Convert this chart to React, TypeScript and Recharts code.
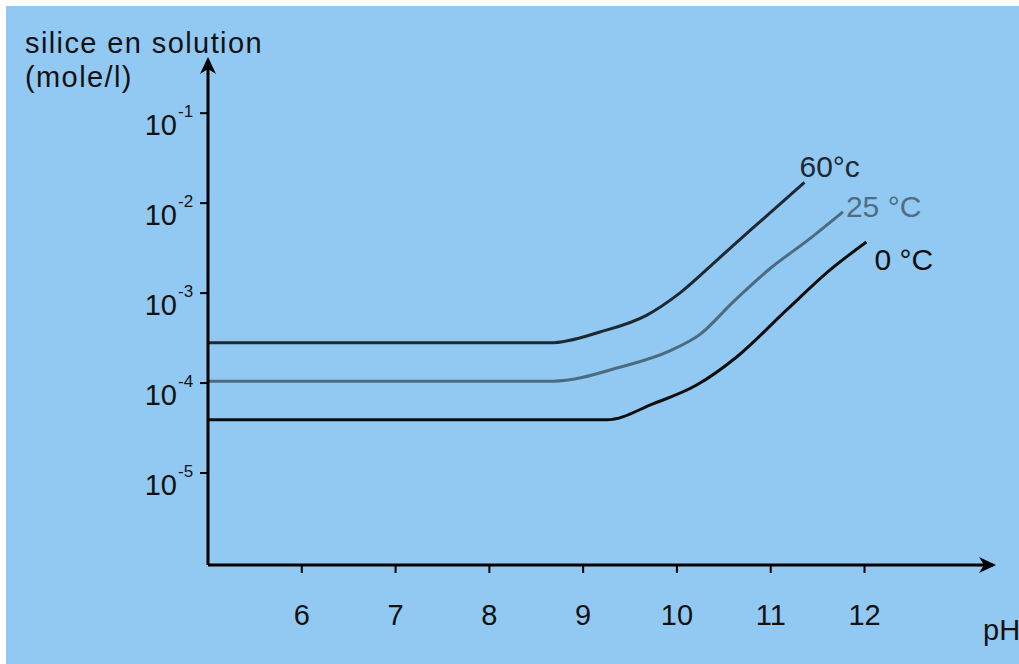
import { LineChart, Line, XAxis, YAxis } from 'recharts';

// pH values and dissolved silica (mole/l)
const ph60 = [5, 8.65, 9.18, 9.68, 10.03, 10.46, 10.81, 11.36];
const conc60 = [2.8e-4, 2.8e-4, 3.7e-4, 5.7e-4, 1.0e-3, 2.5e-3, 5.3e-3, 1.7e-2];
const ph25 = [5, 8.68, 9.39, 9.93, 10.25, 10.6, 11.0, 11.4, 11.77];
const conc25 = [1.05e-4, 1.05e-4, 1.5e-4, 2.3e-4, 3.5e-4, 8.0e-4, 1.9e-3, 3.9e-3, 8.0e-3];
const ph0 = [5, 9.25, 9.75, 10.21, 10.64, 11.17, 11.63, 12.02];
const conc0 = [3.9e-5, 3.9e-5, 5.9e-5, 9.5e-5, 1.96e-4, 6.5e-4, 1.8e-3, 3.7e-3];

const xTicks = [6, 7, 8, 9, 10, 11, 12];
const yTicks = [1e-1, 1e-2, 1e-3, 1e-4, 1e-5];

const FONT = '"Liberation Sans", Arial, sans-serif';
const BG = '#92c9f3';

const toRows = (ph: number[], c: number[]) => ph.map((p, i) => ({ ph: p, c: c[i] }));

const YTick = ({ x, y, payload }: any) => {
  const e = Math.round(Math.log10(payload.value));
  return (
    <g fontFamily={FONT} fill="#111">
      <text x={x - 21} y={y + 22} textAnchor="end" fontSize={29}>10</text>
      <text x={x - 20} y={y + 4} fontSize={17}>{e}</text>
    </g>
  );
};

const XTick = ({ x, y, payload }: any) => (
  <text x={x} y={y + 50} textAnchor="middle" fontSize={29} fontFamily={FONT} fill="#111">
    {payload.value}
  </text>
);

const endLabel = (text: string, color: string, dx: number, dy: number, n: number) => (p: any) =>
  p.index === n - 1 ? (
    <text x={p.x + dx} y={p.y + dy} fontSize={30} fontFamily={FONT} fill={color}>
      {text}
    </text>
  ) : null;

export default function App() {
  return (
    <div style={{ position: 'absolute', left: 0, top: 0, width: 1019, height: 664, background: '#fff' }}>
      <div style={{ position: 'absolute', left: 6, top: 6, right: 0, bottom: 0, background: BG }} />
      <svg width={0} height={0} style={{ position: 'absolute' }}>
        <defs>
          <marker
            id="arrow"
            viewBox="-16 -10 20 20"
            refX={0}
            refY={0}
            markerWidth={20}
            markerHeight={20}
            markerUnits="userSpaceOnUse"
            orient="auto-start-reverse"
          >
            <path d="M 3 0 L -14 -8 L -9 0 L -14 8 Z" fill="#000" />
          </marker>
        </defs>
      </svg>
      <div style={{ position: 'absolute', left: 0, top: 0 }}>
        <LineChart width={1019} height={664} margin={{ top: 60, right: 26, bottom: 39, left: 0 }}>
          <XAxis
            dataKey="ph"
            type="number"
            domain={[5, 13.37]}
            ticks={xTicks}
            allowDataOverflow
            height={60}
            stroke="#000"
            axisLine={{ stroke: '#000', strokeWidth: 3, markerEnd: 'url(#arrow)' }}
            tickLine={{ stroke: '#000', strokeWidth: 2 }}
            tickSize={8}
            tick={<XTick />}
            label={{
              content: ({ viewBox }: any) => (
                <text x={viewBox.x + viewBox.width - 10} y={viewBox.y + 75} fontSize={29} fontFamily={FONT} fill="#111">
                  pH
                </text>
              ),
            }}
          />
          <YAxis
            scale="log"
            domain={[9.5e-7, 0.39]}
            ticks={yTicks}
            allowDataOverflow
            width={208}
            stroke="#000"
            axisLine={{ stroke: '#000', strokeWidth: 3, markerStart: 'url(#arrow)' }}
            tickLine={{ stroke: '#000', strokeWidth: 2 }}
            tickSize={8}
            tick={<YTick />}
            label={{
              content: ({ viewBox }: any) => (
                <g fontFamily={FONT} fontSize={29} fill="#111" letterSpacing={1.4}>
                  <text x={viewBox.x + 25} y={viewBox.y - 7}>silice en solution</text>
                  <text x={viewBox.x + 25} y={viewBox.y + 27}>(mole/l)</text>
                </g>
              ),
            }}
          />
          <Line
            data={toRows(ph60, conc60)}
            dataKey="c"
            type="monotone"
            stroke="#1d2833"
            strokeWidth={3}
            dot={false}
            isAnimationActive={false}
            label={endLabel('60°c', '#1d2833', -5, -5, ph60.length)}
          />
          <Line
            data={toRows(ph25, conc25)}
            dataKey="c"
            type="monotone"
            stroke="#4c6b80"
            strokeWidth={3}
            dot={false}
            isAnimationActive={false}
            label={endLabel('25 °C', '#4f6d82', 3, 5, ph25.length)}
          />
          <Line
            data={toRows(ph0, conc0)}
            dataKey="c"
            type="monotone"
            stroke="#0d0d0d"
            strokeWidth={3}
            dot={false}
            isAnimationActive={false}
            label={endLabel('0 °C', '#0d0d0d', 8, 28, ph0.length)}
          />
        </LineChart>
      </div>
    </div>
  );
}
